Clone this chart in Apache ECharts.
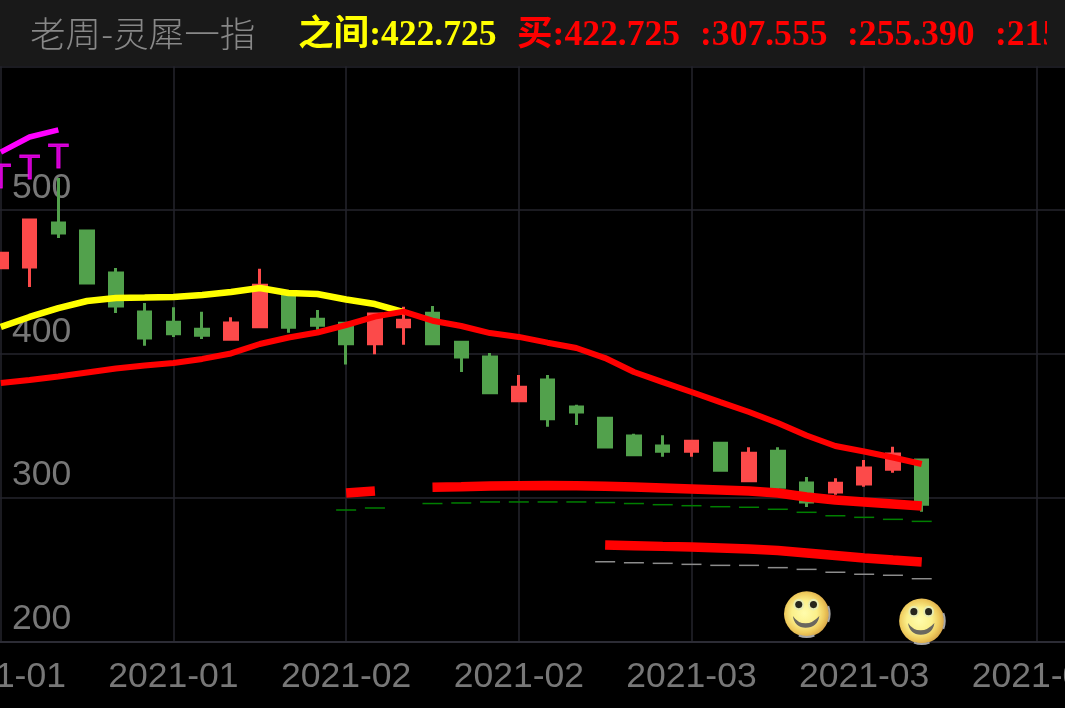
<!DOCTYPE html>
<html><head><meta charset="utf-8">
<style>html,body{margin:0;padding:0;background:#000}#c{width:1065px;height:708px}</style>
<script src="https://cdn.jsdelivr.net/npm/echarts@6/dist/echarts.min.js"></script>
</head><body><div id="c"></div>
<script>
const dates=['2021-01-20','2021-01-21','2021-01-22','2021-01-25','2021-01-26','2021-01-27','2021-01-28','2021-01-29','2021-02-01','2021-02-02','2021-02-03','2021-02-04','2021-02-05','2021-02-08','2021-02-09','2021-02-10','2021-02-18','2021-02-19','2021-02-22','2021-02-23','2021-02-24','2021-02-25','2021-02-26','2021-03-01','2021-03-02','2021-03-03','2021-03-04','2021-03-05','2021-03-08','2021-03-09','2021-03-10','2021-03-11','2021-03-12','2021-03-15','2021-03-16','2021-03-17','2021-03-18','2021-03-19'];
// open, close, low, high
const candles=[
[459.9,469.9,459.9,469.9],[460.3,493.0,446.4,493.7],[491.0,484.0,480.5,522.3],[485.4,449.2,449.2,485.4],
[456.2,433.2,428.3,459.7],[429.0,411.0,405.6,435.3],[421.9,414.0,411.7,432.3],[417.0,412.8,410.3,429.3],
[410.1,421.4,410.1,425.4],[418.8,447.6,418.8,459.2],[440.2,418.4,414.6,440.2],[424.0,419.8,416.7,430.4],
[421.2,407.0,392.5,421.2],[407.0,427.7,399.6,428.6],[418.8,423.3,406.3,432.7],[428.1,407.0,407.0,433.2],
[408.0,397.7,387.3,408.0],[397.7,372.9,372.9,400.5],[367.3,376.7,367.3,385.2],[381.7,354.8,349.3,385.2],
[363.0,359.5,350.4,364.6],[355.1,335.1,335.1,355.1],[342.8,329.8,329.4,344.4],[335.8,332.1,328.4,343.3],
[332.1,339.1,328.4,340.0],[337.7,318.9,318.0,338.0],[311.7,330.7,311.7,334.9],[332.1,307.1,305.9,334.9],
[310.1,296.9,293.4,314.3],[303.8,309.9,302.0,313.4],[309.4,320.5,307.5,326.1],[319.6,330.3,317.3,335.3],
[326.1,295.3,290.1,326.1]];
const magentaLine=[540.3,550.8,555.7];
const tMarks=[521.7,528.6,535.6];
const yellowLine=[418.6,425.6,431.8,436.7,438.8,439.1,439.5,440.9,443,445.7,442.3,441.6,437.7,434.6,429.0];
const redLine=[379.7,381.7,384.2,387.0,389.7,391.8,393.6,396.4,400.2,406.8,411.3,414.8,420,425.8,429.3,423,419.3,414.4,411.7,407.7,404,397,387.3,380.3,373.4,366.4,359.5,351.8,343.1,335.8,332,327.8,323.3];
const buyLine1=[null,null,null,null,null,null,null,null,null,null,null,null,303.1,304.5,null,307.1,307.5,308,308.2,308.4,308.2,307.8,307.3,306.6,305.9,305.2,304.5,303.1,300.4,298.3,296.9,295.5,294.1];
const buyLine2=[null,null,null,null,null,null,null,null,null,null,null,null,null,null,null,null,null,null,null,null,null,267,266.5,266,265.6,264.9,264.2,263.1,261.4,259.7,257.9,256.5,255.2];
const greenDash=[null,null,null,null,null,null,null,null,null,null,null,null,291.3,292.7,null,295.8,296.2,296.9,296.9,296.9,296.9,296.5,295.8,295,294.3,293.6,293.2,291.8,289.7,287.3,286.2,284.8,283.4];
const greyDash=[null,null,null,null,null,null,null,null,null,null,null,null,null,null,null,null,null,null,null,null,null,255.3,254.6,254.2,253.5,252.8,252.8,251.2,250,248,246.6,245.9,243.5];
const smileys=[[28,219],[32,214.1]];
const headerTitle='老周-灵犀一指';
const headerYellow='之间:422.725';
const headerRed=['买:422.725',':307.555',':255.390',':215.000'];

const faceSvg='<svg xmlns="http://www.w3.org/2000/svg" viewBox="-3 -3 54 54"><defs>'+
'<radialGradient id="g" cx="45%" cy="48%" r="55%"><stop offset="0" stop-color="#fffcac"/><stop offset=".5" stop-color="#fbf08a"/><stop offset=".8" stop-color="#eeca5c"/><stop offset="1" stop-color="#d8a648"/></radialGradient>'+
'<filter id="b" x="-10%" y="-10%" width="120%" height="120%"><feGaussianBlur stdDeviation=".7"/></filter></defs><g filter="url(#b)">'+
'<circle cx="24" cy="24" r="23" fill="url(#g)"/>'+
'<path d="M46 16 A23 23 0 0 1 46 32" stroke="#a8a8a8" stroke-width="2" fill="none"/>'+
'<path d="M16 46 A23 23 0 0 0 32 46" stroke="#a8a8a8" stroke-width="2" fill="none"/>'+
'<ellipse cx="16" cy="14.5" rx="5.5" ry="6" fill="#e8ecb0"/><ellipse cx="31" cy="14.5" rx="5.5" ry="6" fill="#e8ecb0"/>'+
'<circle cx="16" cy="14.5" r="3.6" fill="#26261e"/><circle cx="31" cy="14.5" r="3.6" fill="#26261e"/>'+
'<path d="M10 26 Q12 38 23 38 Q35 38 37 26 Q30 33.5 23 33.5 Q15 33.5 10 26Z" fill="#6a675e"/></g></svg>';
const faceUrl='image://data:image/svg+xml;charset=utf-8,'+encodeURIComponent(faceSvg);

const cjkSerif='"Liberation Serif","Noto Sans CJK SC",serif';
const hdrY=36;
const hdr=(x,text,fill,bold,y)=>({type:'text',x:x,y:y||hdrY,z:200,style:{text:text,fill:fill,fontSize:35.6,
  fontFamily:bold?cjkSerif:'"Noto Sans CJK SC",sans-serif',fontWeight:bold?'bold':300,textAlign:'left',textVerticalAlign:'middle'}});

const chart=echarts.init(document.getElementById('c'),null,{width:1065,height:708});
chart.setOption({
  backgroundColor:'#000',
  animation:false,
  grid:{left:-13.6,right:-15,top:66.25,bottom:66.75,containLabel:false,outerBoundsMode:'none'},
  xAxis:{type:'category',data:dates,boundaryGap:true,
    axisLine:{show:true,lineStyle:{color:'#33333d',width:1.5}},
    axisTick:{show:false,alignWithLabel:true,interval:5},
    splitLine:{show:true,interval:5,alignWithLabel:true,lineStyle:{color:'#24242c',width:1.5}},
    axisLabel:{interval:i=>i%6===0,color:'#777',fontSize:35.5,fontFamily:'"Liberation Sans",sans-serif',margin:18,
      hideOverlap:false,formatter:v=>v.slice(0,7)}},
  yAxis:{type:'value',min:200,max:600,interval:100,scale:false,position:'left',
    axisLine:{show:false},axisTick:{show:false},
    splitLine:{lineStyle:{color:'#24242c',width:1.5}},
    axisLabel:{inside:true,margin:25.6,color:'#777',fontSize:35.5,fontFamily:'"Liberation Sans",sans-serif',
      align:'left',verticalAlign:'bottom',showMaxLabel:false,showMinLabel:true,padding:[0,0,4,0]}},
  graphic:[
    {type:'rect',shape:{x:0,y:0,width:1065,height:66},z:190,style:{fill:'#191919'}},
    hdr(30,headerTitle,'#888',false,33),
    hdr(298,headerYellow,'#ffff00',true),
    hdr(517,headerRed[0],'#ff0000',true),
    hdr(700,headerRed[1],'#ff0000',true),
    hdr(847,headerRed[2],'#ff0000',true),
    hdr(995,headerRed[3],'#ff0000',true),
    {type:'rect',shape:{x:1047,y:0,width:18,height:66},z:210,style:{fill:'#191919'}}
  ],
  series:[
    {type:'candlestick',name:'K',data:candles,barWidth:13,z:2,
      itemStyle:{color:'#fc4a4a',color0:'#52a14c',borderColor:'#fc4a4a',borderColor0:'#52a14c',borderWidth:3}},
    {type:'line',name:'magenta',data:magentaLine,showSymbol:false,z:5,lineStyle:{color:'#ff00ff',width:5.5}},
    {type:'scatter',name:'T',data:tMarks,symbolSize:0,z:5,
      label:{show:true,position:'inside',formatter:'T',color:'#ff00ff',fontSize:35,textBorderColor:'#ff00ff',textBorderWidth:0.8,fontFamily:'"Liberation Sans",sans-serif'}},
    {type:'line',name:'yellow',data:yellowLine,showSymbol:false,z:5,lineStyle:{color:'#ffff00',width:6.5}},
    {type:'line',name:'red',data:redLine,showSymbol:false,z:6,lineStyle:{color:'#ff0000',width:6}},
    {type:'line',name:'buy1',data:buyLine1,showSymbol:false,connectNulls:false,z:6,lineStyle:{color:'#ff0000',width:9.5}},
    {type:'line',name:'buy2',data:buyLine2,showSymbol:false,connectNulls:false,z:6,lineStyle:{color:'#ff0000',width:9.5}},
    {type:'scatter',name:'greenDash',data:greenDash,symbol:'rect',symbolSize:[20,1.5],z:4,itemStyle:{color:'#007f00',opacity:1}},
    {type:'scatter',name:'greyDash',data:greyDash,symbol:'rect',symbolSize:[20,1.5],z:4,itemStyle:{color:'#8c8c8c',opacity:1}},
    {type:'scatter',name:'smile',data:smileys,symbol:faceUrl,symbolSize:53,z:7,itemStyle:{opacity:1}}
  ]
});
</script></body></html>
